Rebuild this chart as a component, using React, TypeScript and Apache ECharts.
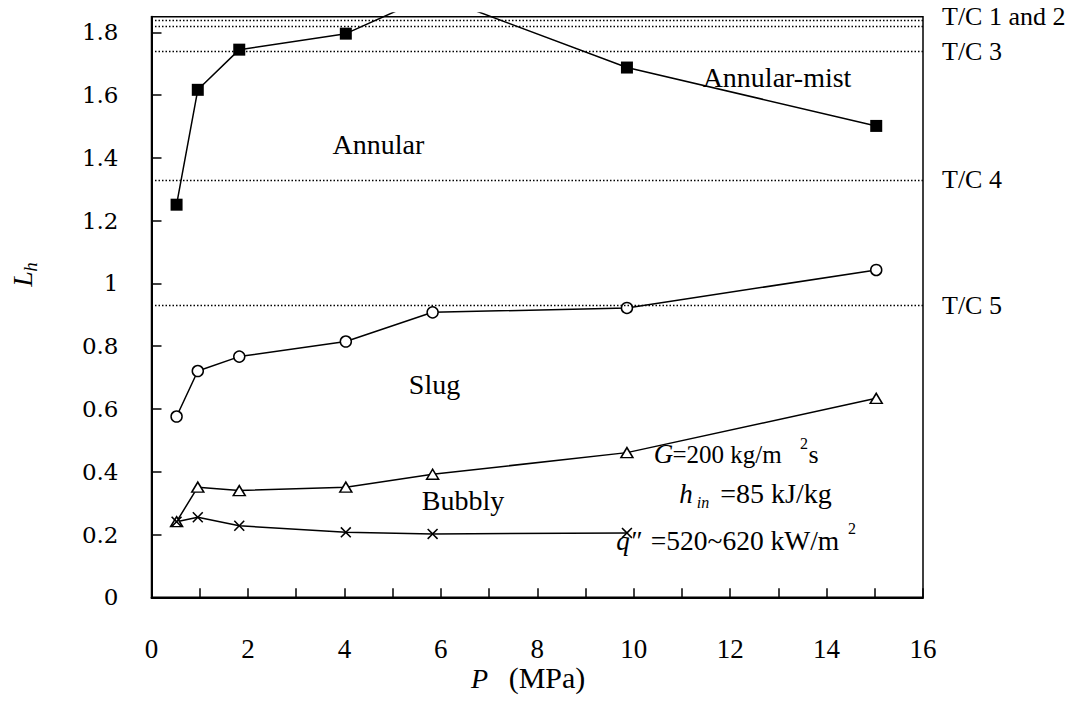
import React, { useEffect, useRef } from "react";
import * as echarts from "echarts";

// ---- data ----
const pressure = [0.52, 0.96, 1.82, 4.03, 5.83, 9.86, 15.03];
const annularMistBoundary = [1.251, 1.617, 1.745, 1.796, 1.92, 1.688, 1.502];
const slugBoundary = [0.576, 0.721, 0.767, 0.815, 0.908, 0.922, 1.043];
const bubblyBoundary = [0.241, 0.351, 0.34, 0.351, 0.392, 0.461, 0.634];
const crossPressure = [0.52, 0.96, 1.82, 4.03, 5.83, 9.86];
const crossValues = [0.241, 0.255, 0.228, 0.207, 0.202, 0.205];
const tcLevels = [1.838, 1.819, 1.737, 1.333, 0.931];
const tcLabels = ["T/C 1 and 2", "", "T/C 3", "T/C 4", "T/C 5"];
const xTicks = { min: 0, max: 16, step: 1 };
const yTicks = { min: 0, max: 1.85, step: 0.2 };

const SERIF = "Liberation Serif";
const YFONT = "DejaVu Serif";

// plot frame in page pixels
const FRAME = { left: 151.5, right: 923, top: 16.7, bottom: 597.3 };
const W = 1087;
const H = 717;
const CLIP_TOP = 13; // the steep boundary line is cut a little above the frame

const pairs = (xs: number[], ys: number[]) => xs.map((x, i) => [x, ys[i]]);

const crossPath =
  "path://M0,1L1,0L5,4L9,0L10,1L6,5L10,9L9,10L5,6L1,10L0,9L4,5Z";

// a centred piece of text placed by its horizontal centre and alphabetic baseline
const piece = (cx: number, baseline: number, text: string, size: number, italic = false) => {
  const style: any = {
    text,
    fontSize: size,
    fontFamily: SERIF,
    fill: "#000",
    align: "center",
    verticalAlign: "middle",
  };
  if (italic) style.fontStyle = "italic";
  return { type: "text", x: cx, y: baseline - 0.34 * size, style };
};

const centered = (x: number, y: number, text: string, size = 28) => ({
  type: "text",
  x,
  y,
  style: {
    text,
    fontSize: size,
    fontFamily: SERIF,
    fill: "#000",
    align: "center",
    verticalAlign: "middle",
  },
});

export default function App() {
  const ref = useRef<HTMLDivElement>(null);
  useEffect(() => {
    if (!ref.current) return;
    const chart = echarts.init(ref.current, null, { renderer: "svg" });
    const lineStyle = { color: "#000", width: 1.5 };
    const ppu = (FRAME.bottom - FRAME.top) / yTicks.max;
    const clipMax = yTicks.max + (FRAME.top - CLIP_TOP) / ppu;
    const gridBase = {
      left: FRAME.left,
      right: W - FRAME.right,
      bottom: H - FRAME.bottom,
      containLabel: false,
    };
    chart.setOption({
      animation: false,
      grid: [
        {
          ...gridBase,
          top: FRAME.top,
          show: true,
          borderColor: "#000",
          borderWidth: 1.5,
        },
        { ...gridBase, top: CLIP_TOP, show: false },
      ],
      xAxis: [
        {
          type: "value",
          gridIndex: 0,
          min: xTicks.min,
          max: xTicks.max,
          interval: xTicks.step,
          axisLine: { show: true, lineStyle: { color: "#000", width: 2 } },
          axisTick: { show: true, inside: true, length: 9, lineStyle: { color: "#000", width: 1.5 } },
          splitLine: { show: false },
          axisLabel: {
            margin: 38,
            fontSize: 27,
            fontFamily: SERIF,
            color: "#000",
            formatter: (v: number) => (Math.round(v) % 2 === 0 ? String(v) : ""),
          },
        },
        {
          type: "value",
          gridIndex: 1,
          min: xTicks.min,
          max: xTicks.max,
          show: false,
        },
      ],
      yAxis: [
        {
          type: "value",
          gridIndex: 0,
          min: yTicks.min,
          max: yTicks.max,
          interval: yTicks.step,
          axisLine: { show: true, lineStyle: { color: "#000", width: 2 } },
          axisTick: { show: true, inside: true, length: 10, lineStyle: { color: "#000", width: 1.5 } },
          splitLine: { show: false },
          axisLabel: {
            margin: 33,
            fontSize: 23,
            fontFamily: YFONT,
            color: "#000",
            showMaxLabel: false,
            formatter: (v: number) =>
              Math.abs(v - yTicks.max) < 1e-6 ? "" : String(Math.round(v * 10) / 10),
          },
        },
        {
          type: "value",
          gridIndex: 1,
          min: yTicks.min,
          max: clipMax,
          show: false,
        },
      ],
      series: [
        {
          type: "line",
          xAxisIndex: 1,
          yAxisIndex: 1,
          data: pairs(pressure, annularMistBoundary),
          clip: true,
          symbol: "rect",
          symbolSize: 12,
          itemStyle: { color: "#000" },
          lineStyle,
          z: 3,
        },
        {
          type: "line",
          data: pairs(pressure, slugBoundary),
          symbol: "circle",
          symbolSize: 11,
          itemStyle: { color: "#fff", borderColor: "#000", borderWidth: 1.5 },
          lineStyle,
          z: 3,
          markLine: {
            silent: true,
            symbol: "none",
            lineStyle: { type: [1.5, 2], color: "#000", width: 1.4 },
            label: {
              show: true,
              position: "end",
              distance: 19,
              fontSize: 26,
              fontFamily: SERIF,
              color: "#000",
            },
            data: tcLevels.map((v, i) => ({
              yAxis: v,
              label: {
                show: tcLabels[i] !== "",
                formatter: tcLabels[i],
                offset: i === 0 ? [0, -3] : [0, 0],
              },
            })),
          },
        },
        {
          type: "line",
          data: pairs(pressure, bubblyBoundary),
          symbol: "triangle",
          symbolSize: [12, 10],
          itemStyle: { color: "#fff", borderColor: "#000", borderWidth: 1.5 },
          lineStyle,
          z: 3,
        },
        {
          type: "line",
          data: pairs(crossPressure, crossValues),
          symbol: crossPath,
          symbolSize: 11,
          itemStyle: { color: "#000" },
          lineStyle,
          z: 3,
        },
      ],
      graphic: [
        centered(378.4, 144, "Annular"),
        centered(777, 77, "Annular-mist"),
        centered(434.5, 384, "Slug"),
        centered(463, 500, "Bubbly"),
        // G = 200 kg/m^2 s
        piece(663.5, 463, "G", 27, true),
        piece(727, 463, "=200 kg/m", 25),
        piece(804, 449, "2", 16),
        piece(813.5, 463, "s", 26),
        // h_in = 85 kJ/kg
        piece(686, 503, "h", 27, true),
        piece(703, 508, "in", 16, true),
        piece(776, 503, "=85 kJ/kg", 28),
        // q'' = 520~620 kW/m^2
        piece(628.5, 550, "q\u2033", 27, true),
        piece(745, 550, "=520~620 kW/m", 27.5),
        piece(852, 534, "2", 16),
        // x axis title
        piece(479.5, 688, "P", 28, true),
        piece(547, 688, "(MPa)", 30),
        // y axis title
        {
          type: "group",
          x: 32,
          y: 288,
          rotation: Math.PI / 2,
          children: [
            piece(9, 0, "L", 28, true),
            piece(21, 5, "h", 19, true),
          ],
        },
      ],
    });
    return () => chart.dispose();
  }, []);
  return (
    <div
      ref={ref}
      style={{ position: "absolute", left: 0, top: 0, width: W, height: H }}
    />
  );
}
